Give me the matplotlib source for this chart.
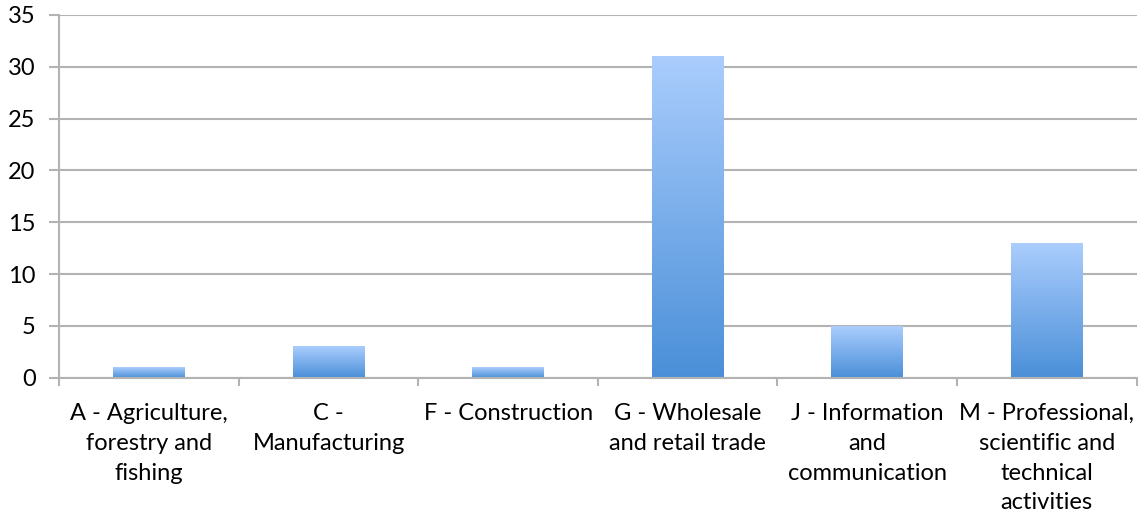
import numpy as np
import matplotlib.pyplot as plt
from matplotlib.colors import LinearSegmentedColormap

plt.rcParams['font.family'] = ['Lato', 'DejaVu Sans']

categories = [
    "A - Agriculture,\nforestry and\nfishing",
    "C -\nManufacturing",
    "F - Construction",
    "G - Wholesale\nand retail trade",
    "J - Information\nand\ncommunication",
    "M - Professional,\nscientific and\ntechnical\nactivities",
]
counts = [1, 3, 1, 31, 5, 13]

grid_col = "#b3b3b3"
bar_cmap = LinearSegmentedColormap.from_list("barfill", ["#4a8fd8", "#aacdfd"])

fig = plt.figure(figsize=(11.4, 5.12), dpi=100)
ax = fig.add_axes([0.052, 0.262, 0.945, 0.709])

x = np.arange(len(categories))
width = 0.4
grad = np.linspace(0, 1, 256).reshape(-1, 1)
for xi, h in zip(x, counts):
    # vertical gradient inside each bar, dark at the base
    ax.imshow(grad, cmap=bar_cmap, origin="lower", aspect="auto",
              extent=[xi - width / 2, xi + width / 2, 0, h], zorder=3)

ax.set_xlim(-0.5, len(categories) - 0.5)
ax.set_ylim(0, 35)
ax.set_yticks(range(0, 36, 5))
ax.yaxis.grid(True, color=grid_col, linewidth=1.5)
ax.set_axisbelow(True)

for s in ["top", "right"]:
    ax.spines[s].set_visible(False)
for s in ["left", "bottom"]:
    ax.spines[s].set_color(grid_col)
    ax.spines[s].set_linewidth(1.5)
    ax.spines[s].set_zorder(4)

ax.set_xticks(x)
ax.set_xticklabels(categories, fontsize=17, linespacing=1.52, va="top")
ax.set_xticks(np.arange(-0.5, len(categories)), minor=True)
ax.tick_params(axis="x", which="major", length=0, pad=18)
ax.tick_params(axis="x", which="minor", length=6, width=1.5, color=grid_col)
ax.tick_params(axis="y", length=7, width=1.5, color=grid_col, labelsize=17, pad=10)

fig.savefig("out.png")
